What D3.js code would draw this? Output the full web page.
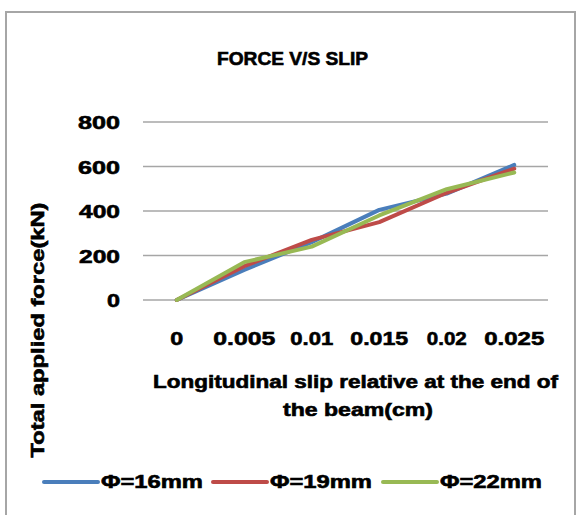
<!DOCTYPE html>
<html>
<head>
<meta charset="utf-8">
<script src="https://cdn.jsdelivr.net/npm/d3@7"></script>
<style>
  html, body { margin: 0; padding: 0; background: #fff; }
  svg { display: block; }
  text { font-family: "Liberation Sans", Arial, sans-serif; font-weight: bold; fill: #000; stroke: #000; stroke-width: 0.6; }
</style>
</head>
<body>
<svg id="chart" width="577" height="515"></svg>
<script>
const categories = ["0", "0.005", "0.01", "0.015", "0.02", "0.025"];
const seriesNames = ["\u03A6=16mm", "\u03A6=19mm", "\u03A6=22mm"];
const phi16 = [0, 135, 260, 405, 478, 607];
const phi19 = [0, 152, 270, 350, 482, 590];
const phi22 = [0, 170, 240, 380, 498, 573];
const yTicks = [0, 200, 400, 600, 800];
const colors = ["#4a7ebb", "#be4b48", "#98b954"];

const series = [phi16, phi19, phi22];
const svg = d3.select("#chart");

// outer border
svg.append("rect").attr("x", 6).attr("y", 12).attr("width", 569).attr("height", 520)
  .attr("fill", "#fff").attr("stroke", "#a6a6a6").attr("stroke-width", 2);

const plot = { left: 143, right: 548, top: 122, bottom: 300 };
const x = d3.scaleBand().domain(categories).range([plot.left, plot.right]);
const y = d3.scaleLinear().domain([0, 800]).range([plot.bottom, plot.top]);

// gridlines
svg.append("g").selectAll("line").data(yTicks).join("line")
  .attr("x1", plot.left).attr("x2", plot.right)
  .attr("y1", d => y(d)).attr("y2", d => y(d))
  .attr("stroke", "#a6a6a6").attr("stroke-width", 1.6);

// y tick labels
const ytw = { 0: 13, 200: 41, 400: 41, 600: 42, 800: 42 };
svg.append("g").selectAll("text").data(yTicks).join("text")
  .attr("x", 120).attr("y", d => y(d) + 7)
  .attr("text-anchor", "end").attr("font-size", 19)
  .attr("textLength", d => ytw[d]).attr("lengthAdjust", "spacingAndGlyphs")
  .text(d => d);

// x tick labels
const xtw = { "0": 13, "0.005": 62, "0.01": 43, "0.015": 58, "0.02": 40, "0.025": 60 };
svg.append("g").selectAll("text").data(categories).join("text")
  .attr("x", d => x(d) + x.bandwidth() / 2).attr("y", 345)
  .attr("text-anchor", "middle").attr("font-size", 19)
  .attr("textLength", d => xtw[d]).attr("lengthAdjust", "spacingAndGlyphs")
  .text(d => d);

// lines
const line = d3.line()
  .x((d, i) => x(categories[i]) + x.bandwidth() / 2)
  .y(d => y(d));
svg.append("g").selectAll("path").data(series).join("path")
  .attr("d", d => line(d))
  .attr("fill", "none")
  .attr("stroke", (d, i) => colors[i])
  .attr("stroke-width", 4)
  .attr("stroke-linejoin", "round")
  .attr("stroke-linecap", "round");

// title
svg.append("text").attr("x", 292.5).attr("y", 65).attr("text-anchor", "middle")
  .attr("font-size", 18).attr("textLength", 151).attr("lengthAdjust", "spacingAndGlyphs")
  .text("FORCE V/S SLIP");

// x axis title
svg.append("text").attr("x", 355.5).attr("y", 388).attr("text-anchor", "middle")
  .attr("font-size", 18).attr("textLength", 405).attr("lengthAdjust", "spacingAndGlyphs")
  .text("Longitudinal slip relative at the end of");
svg.append("text").attr("x", 358).attr("y", 416).attr("text-anchor", "middle")
  .attr("font-size", 18).attr("textLength", 150).attr("lengthAdjust", "spacingAndGlyphs")
  .text("the beam(cm)");

// y axis title
svg.append("text").attr("transform", "translate(44,330) rotate(-90)")
  .attr("text-anchor", "middle").attr("font-size", 18)
  .attr("textLength", 255).attr("lengthAdjust", "spacingAndGlyphs")
  .text("Total applied force(kN)");

// legend
const legX = [44, 213, 383];
const leg = svg.append("g").selectAll("g").data(seriesNames).join("g")
  .attr("transform", (d, i) => `translate(${legX[i]},0)`);
leg.append("line").attr("x1", 0).attr("x2", 54).attr("y1", 482).attr("y2", 482)
  .attr("stroke", (d, i) => colors[i]).attr("stroke-width", 4).attr("stroke-linecap", "round");
leg.append("text").attr("x", 57).attr("y", 488).attr("font-size", 18)
  .attr("textLength", 102).attr("lengthAdjust", "spacingAndGlyphs")
  .text(d => d);
</script>
</body>
</html>
